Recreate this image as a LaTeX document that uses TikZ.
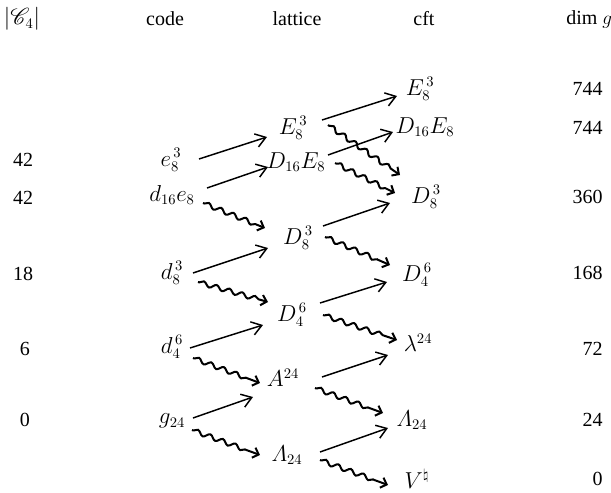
\documentclass[tikz,border=0pt]{standalone}
\usepackage{amsmath}
\usepackage{fontspec}
\setmainfont{Liberation Serif}
\usepackage{mathrsfs}
\usetikzlibrary{arrows.meta, decorations.pathmorphing}

\begin{document}
\begin{tikzpicture}[x=0.75pt, y=-0.75pt,
    T/.style={inner sep=0pt, font=\fontsize{15}{17}\selectfont},
    M/.style={inner sep=0pt, font=\fontsize{16}{18}\selectfont},
    N/.style={T, anchor=east},
    S/.style={-{Straight Barb[length=2.6mm,width=3.6mm]}, line width=1.1pt},
    W/.style={-{Straight Barb[length=1.4mm,width=2.8mm]}, line width=1.5pt,
              decorate, decoration={snake, segment length=10pt, amplitude=1.7pt,
              pre length=1pt, post length=2.5mm}}
]
\useasboundingbox (0,0) rectangle (611,493);

% === HEADERS ===
\node[M] (h1) at (22,19) {$|\mathscr{C}_4|$};
\node[T] (h2) at (165,19) {code};
\node[T] (h3) at (297,19) {lattice};
\node[T] (h4) at (424,19) {cft};
\node[T, anchor=west] (h5) at (566,19) {dim $g$};

% === |C4| ===
\node[T] (n1) at (23,160) {42};
\node[T] (n2) at (23,198) {42};
\node[T] (n3) at (23,274) {18};
\node[T] (n4) at (25,349) {6};
\node[T] (n5) at (25,420) {0};

% === CODES ===
\node[M] (ce) at (171,160) {$e_8^{\,3}$};
\node[M] (cde) at (172,195) {$d_{16}e_8$};
\node[M] (cd8) at (172,273) {$d_8^{\,3}$};
\node[M] (cd4) at (172,347) {$d_4^{\,6}$};
\node[M] (cg) at (172,421) {$g_{24}$};

% === LATTICES ===
\node[M] (le) at (293,128) {$E_8^{\,3}$};
\node[M] (lde) at (296,162) {$D_{16}E_8$};
\node[M] (ld8) at (298,238) {$D_8^{\,3}$};
\node[M] (ld4) at (292,315) {$D_4^{\,6}$};
\node[M] (la) at (283,378) {$A^{24}$};
\node[M] (ll) at (287,455) {$\varLambda_{24}$};

% === CFTS ===
\node[M] (fe) at (420,89) {$E_8^{\,3}$};
\node[M] (fde) at (425,127) {$D_{16}E_8$};
\node[M] (fd8) at (426,197) {$D_8^{\,3}$};
\node[M] (fd4) at (417,275) {$D_4^{\,6}$};
\node[M] (fl) at (418,343) {$\lambda^{24}$};
\node[M] (fL) at (412,420) {$\varLambda_{24}$};
\node[M] (fv) at (417,479) {$V^\natural$};

% === DIM G ===
\node[N] (g1) at (603,89) {744};
\node[N] (g2) at (603,128) {744};
\node[N] (g3) at (603,197) {360};
\node[N] (g4) at (603,273) {168};
\node[N] (g5) at (603,349) {72};
\node[N] (g6) at (603,420) {24};
\node[N] (g7) at (603,479) {0};

% code -> lattice
\draw[S] ([shift={(28,-1)}]ce.center) -- ([shift={(-26,9)}]le.center);
\draw[S] ([shift={(35,-7)}]cde.center) -- ([shift={(-28,5)}]lde.center);
\draw[S] ([shift={(21,0)}]cd8.center) -- ([shift={(-30,10)}]ld8.center);
\draw[S] ([shift={(18,1)}]cd4.center) -- ([shift={(-29,10)}]ld4.center);
\draw[S] ([shift={(21,-3)}]cg.center) -- ([shift={(-30,19)}]la.center);
\draw[W] ([shift={(31,8)}]cde.center) -- ([shift={(-33,-10)}]ld8.center);
\draw[W] ([shift={(26,9)}]cd8.center) -- ([shift={(-24,-13)}]ld4.center);
\draw[W] ([shift={(21,11)}]cd4.center) -- ([shift={(-23,5)}]la.center);
\draw[W] ([shift={(20,9)}]cg.center) -- ([shift={(-27,0)}]ll.center);

% lattice -> cft
\draw[S] ([shift={(29,-8)}]le.center) -- ([shift={(-23,7)}]fe.center);
\draw[S] ([shift={(32,-7)}]lde.center) -- ([shift={(-32,5)}]fde.center);
\draw[S] ([shift={(25,-12)}]ld8.center) -- ([shift={(-36,6)}]fd8.center);
\draw[S] ([shift={(28,-12)}]ld4.center) -- ([shift={(-30,7)}]fd4.center);
\draw[S] ([shift={(39,-1)}]la.center) -- ([shift={(-30,12)}]fl.center);
\draw[S] ([shift={(33,-3)}]ll.center) -- ([shift={(-24,8)}]fL.center);
\draw[W] ([shift={(35,-3)}]le.center) -- ([shift={(-26,-22)}]fd8.center);
\draw[W] ([shift={(39,1)}]lde.center) -- ([shift={(-31,-4)}]fd8.center);
\draw[W] ([shift={(27,-1)}]ld8.center) -- ([shift={(-27,-10)}]fd4.center);
\draw[W] ([shift={(31,0)}]ld4.center) -- ([shift={(-21,-3)}]fl.center);
\draw[W] ([shift={(32,10)}]la.center) -- ([shift={(-29,-7)}]fL.center);
\draw[W] ([shift={(33,5)}]ll.center) -- ([shift={(-29,6)}]fv.center);

\end{tikzpicture}
\end{document}
